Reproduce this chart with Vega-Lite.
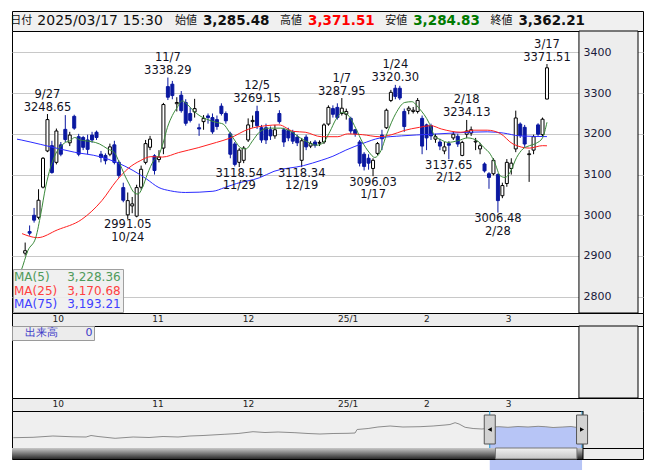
{
  "$schema": "https://vega.github.io/schema/vega-lite/v6.json",
  "padding": {"left": 9, "top": 10, "right": 0, "bottom": 0},
  "background": "white",
  "config": {
    "view": {"stroke": "#000000", "strokeWidth": 1},
    "font": "DejaVu Sans",
    "axis": {"labelFont": "DejaVu Sans"},
    "legend": {"labelFont": "DejaVu Sans"}
  },
  "datasets": {
    "header": [
      {"k": "日付", "v": "2025/03/17 15:30"},
      {"k": "始値", "v": "3,285.48"},
      {"k": "高値", "v": "3,371.51"},
      {"k": "安値", "v": "3,284.83"},
      {"k": "終値", "v": "3,362.21"}
    ],
    "candles": [
      {"i":0,"d":"9/19","o":2907,"h":2933,"l":2901,"c":2913},
      {"i":1,"d":"9/20","o":2960,"h":2975,"l":2950,"c":2956},
      {"i":2,"d":"9/24","o":3000,"h":3018,"l":2982,"c":2988},
      {"i":3,"d":"9/25","o":2995,"h":3064,"l":2990,"c":3037},
      {"i":4,"d":"9/26","o":3069,"h":3143,"l":3066,"c":3140},
      {"i":5,"d":"9/27","o":3158,"h":3248.65,"l":3155,"c":3235},
      {"i":6,"d":"9/30","o":3171,"h":3183,"l":3102,"c":3105},
      {"i":7,"d":"10/1","o":3130,"h":3213,"l":3125,"c":3207},
      {"i":8,"d":"10/2","o":3173,"h":3180,"l":3145,"c":3150},
      {"i":9,"d":"10/3","o":3211,"h":3246,"l":3180,"c":3186},
      {"i":10,"d":"10/4","o":3178,"h":3205,"l":3170,"c":3197},
      {"i":11,"d":"10/7","o":3243,"h":3247,"l":3210,"c":3214},
      {"i":12,"d":"10/8","o":3193,"h":3200,"l":3145,"c":3150},
      {"i":13,"d":"10/9","o":3191,"h":3195,"l":3160,"c":3167},
      {"i":14,"d":"10/10","o":3185,"h":3198,"l":3150,"c":3162},
      {"i":15,"d":"10/11","o":3197,"h":3205,"l":3178,"c":3185},
      {"i":16,"d":"10/15","o":3204,"h":3208,"l":3185,"c":3191},
      {"i":17,"d":"10/16","o":3150,"h":3158,"l":3130,"c":3142},
      {"i":18,"d":"10/17","o":3147,"h":3152,"l":3125,"c":3134},
      {"i":19,"d":"10/18","o":3150,"h":3176,"l":3145,"c":3168},
      {"i":20,"d":"10/21","o":3173,"h":3183,"l":3125,"c":3130},
      {"i":21,"d":"10/22","o":3130,"h":3135,"l":3092,"c":3098},
      {"i":22,"d":"10/23","o":3068,"h":3080,"l":3032,"c":3037},
      {"i":23,"d":"10/24","o":3001,"h":3056,"l":2991.05,"c":3036},
      {"i":24,"d":"10/25","o":3023,"h":3045,"l":3005,"c":3028},
      {"i":25,"d":"10/28","o":2998,"h":3075,"l":2995,"c":3068},
      {"i":26,"d":"10/29","o":3069,"h":3122,"l":3063,"c":3113},
      {"i":27,"d":"10/30","o":3130,"h":3185,"l":3125,"c":3176},
      {"i":28,"d":"10/31","o":3167,"h":3195,"l":3160,"c":3187},
      {"i":29,"d":"11/1","o":3146,"h":3150,"l":3100,"c":3110},
      {"i":30,"d":"11/5","o":3137,"h":3160,"l":3130,"c":3143},
      {"i":31,"d":"11/6","o":3165,"h":3276,"l":3150,"c":3272},
      {"i":32,"d":"11/7","o":3316,"h":3338.29,"l":3283,"c":3290},
      {"i":33,"d":"11/8","o":3322,"h":3330,"l":3285,"c":3294},
      {"i":34,"d":"11/11","o":3274,"h":3290,"l":3255,"c":3277},
      {"i":35,"d":"11/12","o":3295,"h":3305,"l":3252,"c":3257},
      {"i":36,"d":"11/13","o":3277,"h":3285,"l":3220,"c":3226},
      {"i":37,"d":"11/14","o":3250,"h":3265,"l":3228,"c":3233},
      {"i":38,"d":"11/15","o":3254,"h":3286,"l":3240,"c":3262},
      {"i":39,"d":"11/18","o":3215,"h":3225,"l":3195,"c":3212},
      {"i":40,"d":"11/19","o":3230,"h":3246,"l":3210,"c":3238},
      {"i":41,"d":"11/20","o":3244,"h":3250,"l":3225,"c":3240},
      {"i":42,"d":"11/21","o":3240,"h":3250,"l":3200,"c":3205},
      {"i":43,"d":"11/22","o":3235,"h":3245,"l":3210,"c":3218},
      {"i":44,"d":"11/25","o":3268,"h":3275,"l":3245,"c":3250},
      {"i":45,"d":"11/26","o":3250,"h":3255,"l":3225,"c":3232},
      {"i":46,"d":"11/27","o":3200,"h":3205,"l":3140,"c":3150},
      {"i":47,"d":"11/28","o":3175,"h":3180,"l":3120,"c":3125},
      {"i":48,"d":"11/29","o":3130,"h":3165,"l":3118.54,"c":3160},
      {"i":49,"d":"12/2","o":3135,"h":3170,"l":3128,"c":3165},
      {"i":50,"d":"12/3","o":3185,"h":3238,"l":3180,"c":3222},
      {"i":51,"d":"12/4","o":3230,"h":3245,"l":3215,"c":3233},
      {"i":52,"d":"12/5","o":3255,"h":3269.15,"l":3212,"c":3220},
      {"i":53,"d":"12/6","o":3215,"h":3222,"l":3178,"c":3185},
      {"i":54,"d":"12/9","o":3215,"h":3225,"l":3175,"c":3185},
      {"i":55,"d":"12/10","o":3210,"h":3218,"l":3185,"c":3195},
      {"i":56,"d":"12/11","o":3195,"h":3222,"l":3188,"c":3210},
      {"i":57,"d":"12/12","o":3250,"h":3258,"l":3225,"c":3230},
      {"i":58,"d":"12/13","o":3210,"h":3215,"l":3168,"c":3180},
      {"i":59,"d":"12/16","o":3208,"h":3215,"l":3182,"c":3190},
      {"i":60,"d":"12/17","o":3204,"h":3210,"l":3175,"c":3182},
      {"i":61,"d":"12/18","o":3192,"h":3198,"l":3170,"c":3178},
      {"i":62,"d":"12/19","o":3135,"h":3190,"l":3118.34,"c":3183},
      {"i":63,"d":"12/20","o":3192,"h":3198,"l":3160,"c":3168},
      {"i":64,"d":"12/23","o":3170,"h":3182,"l":3165,"c":3176},
      {"i":65,"d":"12/24","o":3180,"h":3185,"l":3166,"c":3172},
      {"i":66,"d":"12/25","o":3177,"h":3184,"l":3170,"c":3179},
      {"i":67,"d":"12/26","o":3180,"h":3226,"l":3175,"c":3222},
      {"i":68,"d":"12/27","o":3224,"h":3270,"l":3220,"c":3265},
      {"i":69,"d":"12/30","o":3262,"h":3270,"l":3240,"c":3248},
      {"i":70,"d":"1/6","o":3265,"h":3275,"l":3235,"c":3240},
      {"i":71,"d":"1/7","o":3250,"h":3287.95,"l":3245,"c":3263},
      {"i":72,"d":"1/8","o":3248,"h":3262,"l":3235,"c":3255},
      {"i":73,"d":"1/9","o":3238,"h":3242,"l":3200,"c":3207},
      {"i":74,"d":"1/10","o":3210,"h":3212,"l":3193,"c":3200},
      {"i":75,"d":"1/14","o":3180,"h":3185,"l":3120,"c":3128},
      {"i":76,"d":"1/15","o":3150,"h":3155,"l":3110,"c":3120},
      {"i":77,"d":"1/16","o":3140,"h":3150,"l":3112,"c":3128},
      {"i":78,"d":"1/17","o":3115,"h":3140,"l":3096.03,"c":3135},
      {"i":79,"d":"1/20","o":3152,"h":3180,"l":3148,"c":3176},
      {"i":80,"d":"1/21","o":3197,"h":3210,"l":3160,"c":3188},
      {"i":81,"d":"1/22","o":3215,"h":3262,"l":3212,"c":3258},
      {"i":82,"d":"1/23","o":3282,"h":3308,"l":3278,"c":3302},
      {"i":83,"d":"1/24","o":3312,"h":3320.30,"l":3285,"c":3292},
      {"i":84,"d":"1/27","o":3312,"h":3318,"l":3283,"c":3288},
      {"i":85,"d":"1/28","o":3255,"h":3262,"l":3205,"c":3218},
      {"i":86,"d":"1/29","o":3258,"h":3268,"l":3248,"c":3263},
      {"i":87,"d":"1/30","o":3255,"h":3266,"l":3250,"c":3258},
      {"i":88,"d":"1/31","o":3255,"h":3288,"l":3250,"c":3282},
      {"i":89,"d":"2/3","o":3238,"h":3245,"l":3150,"c":3170},
      {"i":90,"d":"2/4","o":3222,"h":3225,"l":3160,"c":3190},
      {"i":91,"d":"2/5","o":3220,"h":3225,"l":3185,"c":3195},
      {"i":92,"d":"2/6","o":3187,"h":3200,"l":3178,"c":3193},
      {"i":93,"d":"2/7","o":3180,"h":3188,"l":3160,"c":3170},
      {"i":94,"d":"2/10","o":3158,"h":3180,"l":3150,"c":3168},
      {"i":95,"d":"2/12","o":3176,"h":3182,"l":3137.65,"c":3172},
      {"i":96,"d":"2/13","o":3190,"h":3205,"l":3185,"c":3199},
      {"i":97,"d":"2/14","o":3194,"h":3200,"l":3168,"c":3175},
      {"i":98,"d":"2/17","o":3147,"h":3183,"l":3145,"c":3179},
      {"i":99,"d":"2/18","o":3199,"h":3234.13,"l":3190,"c":3207},
      {"i":100,"d":"2/19","o":3202,"h":3218,"l":3195,"c":3210},
      {"i":101,"d":"2/20","o":3180,"h":3190,"l":3160,"c":3182},
      {"i":102,"d":"2/21","o":3163,"h":3178,"l":3150,"c":3171},
      {"i":103,"d":"2/25","o":3126,"h":3130,"l":3105,"c":3109},
      {"i":104,"d":"2/26","o":3102,"h":3106,"l":3065,"c":3093},
      {"i":105,"d":"2/27","o":3102,"h":3140,"l":3098,"c":3135},
      {"i":106,"d":"2/28","o":3100,"h":3103,"l":3006.48,"c":3036},
      {"i":107,"d":"3/3","o":3048,"h":3080,"l":3042,"c":3073},
      {"i":108,"d":"3/4","o":3078,"h":3138,"l":3070,"c":3130},
      {"i":109,"d":"3/5","o":3115,"h":3140,"l":3100,"c":3128},
      {"i":110,"d":"3/6","o":3163,"h":3257,"l":3155,"c":3239},
      {"i":111,"d":"3/7","o":3224,"h":3228,"l":3190,"c":3196},
      {"i":112,"d":"3/10","o":3216,"h":3222,"l":3168,"c":3175},
      {"i":113,"d":"3/11","o":3149,"h":3160,"l":3082,"c":3151},
      {"i":114,"d":"3/12","o":3160,"h":3198,"l":3150,"c":3193},
      {"i":115,"d":"3/13","o":3222,"h":3226,"l":3195,"c":3199},
      {"i":116,"d":"3/14","o":3198,"h":3240,"l":3193,"c":3236},
      {"i":117,"d":"3/17","o":3285.48,"h":3371.51,"l":3284.83,"c":3362.21}
    ],
    "ma": [
      {"s":"MA(75)","i":-1.83,"v":3187},{"s":"MA(75)","i":-0.9,"v":3185},{"s":"MA(75)","i":3.5,"v":3174},
      {"s":"MA(75)","i":11,"v":3155},{"s":"MA(75)","i":16.7,"v":3144},{"s":"MA(75)","i":20.5,"v":3130},
      {"s":"MA(75)","i":24.2,"v":3110},{"s":"MA(75)","i":27.1,"v":3090},{"s":"MA(75)","i":30,"v":3068},
      {"s":"MA(75)","i":32.6,"v":3060},{"s":"MA(75)","i":35.9,"v":3056},{"s":"MA(75)","i":42.1,"v":3059},
      {"s":"MA(75)","i":44.7,"v":3068},{"s":"MA(75)","i":47.4,"v":3078},{"s":"MA(75)","i":52.5,"v":3092},
      {"s":"MA(75)","i":55.8,"v":3108},{"s":"MA(75)","i":62.4,"v":3122},{"s":"MA(75)","i":66.4,"v":3135},
      {"s":"MA(75)","i":69,"v":3145},{"s":"MA(75)","i":71.9,"v":3160},{"s":"MA(75)","i":75.6,"v":3176},
      {"s":"MA(75)","i":79.6,"v":3190},{"s":"MA(75)","i":84.4,"v":3195},{"s":"MA(75)","i":91,"v":3199},
      {"s":"MA(75)","i":97.7,"v":3203},{"s":"MA(75)","i":103.6,"v":3205},{"s":"MA(75)","i":107.2,"v":3202},
      {"s":"MA(75)","i":110.9,"v":3195},{"s":"MA(75)","i":117,"v":3193.21},
      {"s":"MA(25)","i":-0.7,"v":2955},{"s":"MA(25)","i":2.8,"v":2945},{"s":"MA(25)","i":7.2,"v":2964},
      {"s":"MA(25)","i":12.7,"v":2990},{"s":"MA(25)","i":17.2,"v":3036},{"s":"MA(25)","i":20.5,"v":3085},
      {"s":"MA(25)","i":23.1,"v":3115},{"s":"MA(25)","i":25.8,"v":3134},{"s":"MA(25)","i":28.2,"v":3144},
      {"s":"MA(25)","i":30.8,"v":3143},{"s":"MA(25)","i":34.4,"v":3154},{"s":"MA(25)","i":38.8,"v":3166},
      {"s":"MA(25)","i":42.9,"v":3179},{"s":"MA(25)","i":45.8,"v":3189},{"s":"MA(25)","i":50.2,"v":3212},
      {"s":"MA(25)","i":54,"v":3220},{"s":"MA(25)","i":56.9,"v":3222},{"s":"MA(25)","i":60.2,"v":3206},
      {"s":"MA(25)","i":62.8,"v":3204},{"s":"MA(25)","i":66.4,"v":3193},{"s":"MA(25)","i":70.1,"v":3193},
      {"s":"MA(25)","i":72.3,"v":3200},{"s":"MA(25)","i":75.6,"v":3198},{"s":"MA(25)","i":79.4,"v":3193},
      {"s":"MA(25)","i":82.2,"v":3198},{"s":"MA(25)","i":84.9,"v":3208},{"s":"MA(25)","i":88.4,"v":3216},
      {"s":"MA(25)","i":91,"v":3220},{"s":"MA(25)","i":93.3,"v":3212},{"s":"MA(25)","i":97.7,"v":3204},
      {"s":"MA(25)","i":100.6,"v":3209},{"s":"MA(25)","i":103.6,"v":3209},{"s":"MA(25)","i":106.5,"v":3201},
      {"s":"MA(25)","i":109.4,"v":3175},{"s":"MA(25)","i":113.1,"v":3165},{"s":"MA(25)","i":116,"v":3171},
      {"s":"MA(25)","i":117,"v":3170.68},
      {"s":"MA(5)","i":-1.83,"v":2840},{"s":"MA(5)","i":-0.9,"v":2864},{"s":"MA(5)","i":0.6,"v":2913},
      {"s":"MA(5)","i":2.4,"v":2946},{"s":"MA(5)","i":3.5,"v":3003},{"s":"MA(5)","i":4.6,"v":3070},
      {"s":"MA(5)","i":5.7,"v":3118},{"s":"MA(5)","i":6.8,"v":3150},{"s":"MA(5)","i":7.9,"v":3168},
      {"s":"MA(5)","i":9,"v":3179},{"s":"MA(5)","i":10.1,"v":3183},{"s":"MA(5)","i":11.1,"v":3191},
      {"s":"MA(5)","i":12.3,"v":3185},{"s":"MA(5)","i":13.4,"v":3183},{"s":"MA(5)","i":14.9,"v":3181},
      {"s":"MA(5)","i":16.7,"v":3175},{"s":"MA(5)","i":18.5,"v":3163},{"s":"MA(5)","i":20,"v":3154},
      {"s":"MA(5)","i":21.1,"v":3130},{"s":"MA(5)","i":22.2,"v":3101},{"s":"MA(5)","i":23.3,"v":3077},
      {"s":"MA(5)","i":24.4,"v":3056},{"s":"MA(5)","i":25.3,"v":3052},{"s":"MA(5)","i":26.3,"v":3068},
      {"s":"MA(5)","i":27.4,"v":3101},{"s":"MA(5)","i":28.8,"v":3134},{"s":"MA(5)","i":29.9,"v":3146},
      {"s":"MA(5)","i":31,"v":3180},{"s":"MA(5)","i":31.9,"v":3216},{"s":"MA(5)","i":33,"v":3245},
      {"s":"MA(5)","i":34.1,"v":3265},{"s":"MA(5)","i":35.2,"v":3281},{"s":"MA(5)","i":36.3,"v":3273},
      {"s":"MA(5)","i":37.7,"v":3257},{"s":"MA(5)","i":39.2,"v":3244},{"s":"MA(5)","i":40.7,"v":3236},
      {"s":"MA(5)","i":42.9,"v":3228},{"s":"MA(5)","i":44.4,"v":3224},{"s":"MA(5)","i":45.8,"v":3204},
      {"s":"MA(5)","i":47.3,"v":3179},{"s":"MA(5)","i":48.4,"v":3165},{"s":"MA(5)","i":49.5,"v":3163},
      {"s":"MA(5)","i":51,"v":3183},{"s":"MA(5)","i":52.5,"v":3204},{"s":"MA(5)","i":54.7,"v":3214},
      {"s":"MA(5)","i":57.3,"v":3214},{"s":"MA(5)","i":59.4,"v":3207},{"s":"MA(5)","i":61.7,"v":3190},
      {"s":"MA(5)","i":63.9,"v":3177},{"s":"MA(5)","i":65.3,"v":3172},{"s":"MA(5)","i":66.8,"v":3178},
      {"s":"MA(5)","i":68.3,"v":3205},{"s":"MA(5)","i":69.7,"v":3236},{"s":"MA(5)","i":71.2,"v":3253},
      {"s":"MA(5)","i":72.7,"v":3242},{"s":"MA(5)","i":74.2,"v":3212},{"s":"MA(5)","i":75.6,"v":3180},
      {"s":"MA(5)","i":77.1,"v":3155},{"s":"MA(5)","i":78.4,"v":3142},{"s":"MA(5)","i":79.6,"v":3155},
      {"s":"MA(5)","i":81.1,"v":3200},{"s":"MA(5)","i":83.1,"v":3250},{"s":"MA(5)","i":85.1,"v":3277},
      {"s":"MA(5)","i":86.7,"v":3279},{"s":"MA(5)","i":88.3,"v":3263},{"s":"MA(5)","i":90.6,"v":3226},
      {"s":"MA(5)","i":91.8,"v":3195},{"s":"MA(5)","i":93.3,"v":3185},{"s":"MA(5)","i":94.8,"v":3179},
      {"s":"MA(5)","i":97,"v":3183},{"s":"MA(5)","i":99.2,"v":3190},{"s":"MA(5)","i":101.4,"v":3183},
      {"s":"MA(5)","i":102.8,"v":3167},{"s":"MA(5)","i":104.3,"v":3150},{"s":"MA(5)","i":105.4,"v":3126},
      {"s":"MA(5)","i":106.5,"v":3097},{"s":"MA(5)","i":107.6,"v":3093},{"s":"MA(5)","i":108.7,"v":3105},
      {"s":"MA(5)","i":110.2,"v":3142},{"s":"MA(5)","i":111.6,"v":3163},{"s":"MA(5)","i":113.1,"v":3171},
      {"s":"MA(5)","i":114.6,"v":3177},{"s":"MA(5)","i":116,"v":3190},{"s":"MA(5)","i":117,"v":3228.36}
    ],
    "notes": [
      {"i":5,"d":"9/27","v":3248.65,"k":"high"},
      {"i":32,"d":"11/7","v":3338.29,"k":"high"},
      {"i":52,"d":"12/5","v":3269.15,"k":"high"},
      {"i":71,"d":"1/7","v":3287.95,"k":"high"},
      {"i":83,"d":"1/24","v":3320.30,"k":"high"},
      {"i":99,"d":"2/18","v":3234.13,"k":"high"},
      {"i":117,"d":"3/17","v":3371.51,"k":"high"},
      {"i":23,"d":"10/24","v":2991.05,"k":"low"},
      {"i":48,"d":"11/29","v":3118.54,"k":"low"},
      {"i":62,"d":"12/19","v":3118.34,"k":"low"},
      {"i":78,"d":"1/17","v":3096.03,"k":"low"},
      {"i":95,"d":"2/12","v":3137.65,"k":"low"},
      {"i":106,"d":"2/28","v":3006.48,"k":"low"}
    ],
    "navline": [
      {"t":2022.205,"v":2793},{"t":2022.309,"v":2808},{"t":2022.414,"v":2856},{"t":2022.520,"v":2826},
      {"t":2022.589,"v":2819},{"t":2022.615,"v":2874},{"t":2022.652,"v":2837},{"t":2022.742,"v":2771},
      {"t":2022.837,"v":2819},{"t":2022.921,"v":2800},{"t":2022.995,"v":2837},{"t":2023.074,"v":2819},
      {"t":2023.137,"v":2856},{"t":2023.206,"v":2874},{"t":2023.317,"v":2919},{"t":2023.391,"v":2948},
      {"t":2023.470,"v":3015},{"t":2023.533,"v":2985},{"t":2023.602,"v":3004},{"t":2023.691,"v":2978},
      {"t":2023.760,"v":2948},{"t":2023.823,"v":2930},{"t":2023.892,"v":2948},{"t":2023.971,"v":2956},
      {"t":2024.008,"v":2967},{"t":2024.019,"v":3096},{"t":2024.077,"v":3133},{"t":2024.129,"v":3189},
      {"t":2024.193,"v":3226},{"t":2024.261,"v":3189},{"t":2024.351,"v":3200},{"t":2024.420,"v":3226},
      {"t":2024.483,"v":3263},{"t":2024.509,"v":3281},{"t":2024.536,"v":3348},{"t":2024.557,"v":3300},
      {"t":2024.589,"v":3178},{"t":2024.631,"v":3133},{"t":2024.678,"v":3115},{"t":2024.719,"v":3152},
      {"t":2024.736,"v":3189},{"t":2024.768,"v":3200},{"t":2024.815,"v":3178},{"t":2024.868,"v":3207},
      {"t":2024.921,"v":3189},{"t":2024.974,"v":3215},{"t":2025.011,"v":3200},{"t":2025.053,"v":3170},
      {"t":2025.105,"v":3189},{"t":2025.148,"v":3207},{"t":2025.174,"v":3178},{"t":2025.206,"v":3244}
    ],
    "sel": [
      {"t": 2024.719, "dir": "L"},
      {"t": 2025.206, "dir": "R"}
    ],
    "scroll": [
      {"a": 2022.198, "b": 2025.211, "p": "track"},
      {"a": 2024.749, "b": 2025.179, "p": "thumb"}
    ]
  },
  "spacing": 0,
  "bounds": "flush",
  "resolve": {"scale": {"color": "independent", "shape": "independent"}, "legend": {"color": "independent", "shape": "independent"}},
  "vconcat": [
    {
      "width": 631,
      "height": 20,
      "view": {"fill": "#f0f0f0"},
      "data": {"name": "header"},
      "encoding": {
        "x": {"field": "k", "type": "nominal", "scale": {"type": "point", "domain": ["日付", "始値", "高値", "安値", "終値"], "padding": 1.191, "align": 0.2744, "round": false}, "axis": null}
      },
      "layer": [
        {
          "transform": [{"filter": "datum.k != '日付'"}],
          "mark": {"type": "text", "align": "left", "baseline": "middle", "font": "Noto Sans CJK JP", "fontSize": 11, "color": "#111111"},
          "encoding": {"text": {"field": "k"}}
        },
        {
          "transform": [{"filter": "datum.k != '日付'"}],
          "mark": {"type": "text", "align": "left", "baseline": "middle", "font": "DejaVu Sans", "fontSize": 13.5, "fontWeight": "bold", "dx": 28},
          "encoding": {
            "text": {"field": "v"},
            "color": {"condition": [{"test": "datum.k == '高値'", "value": "#ff0000"}, {"test": "datum.k == '安値'", "value": "#007a00"}], "value": "#111111"}
          }
        },
        {
          "transform": [{"filter": "datum.k == '日付'"}],
          "mark": {"type": "text", "align": "left", "baseline": "middle", "font": "Noto Sans CJK JP", "fontSize": 11, "dx": -59.5, "color": "#111111"},
          "encoding": {"text": {"field": "k"}}
        },
        {
          "transform": [{"filter": "datum.k == '日付'"}],
          "mark": {"type": "text", "align": "left", "baseline": "middle", "font": "DejaVu Sans", "fontSize": 14, "dx": -32.4, "color": "#111111"},
          "encoding": {"text": {"field": "v"}}
        }
      ]
    },
    {
      "width": 631,
      "height": 282,
      "view": {"fill": "white"},
      "resolve": {"axis": {"y": "independent"}},
      "layer": [
        {
          "data": {"name": "candles"},
          "mark": {"type": "rule", "strokeWidth": 1},
          "encoding": {
            "x": {"field": "i", "type": "quantitative", "scale": {"domain": [-1.83, 137.41], "nice": false, "zero": false},
              "axis": {"values": [6.67, 28.67, 48.67, 69.67, 88.67, 106.67], "labels": false, "ticks": false, "domain": false, "grid": true, "gridColor": "#c8c8c8", "title": null}},
            "y": {"field": "l", "type": "quantitative", "scale": {"domain": [2760, 3452.6], "nice": false, "zero": false},
              "axis": {"orient": "left", "values": [2800, 2900, 3000, 3100, 3200, 3300, 3400], "labels": false, "ticks": false, "domain": false, "grid": true, "gridColor": "#c8c8c8", "title": null}},
            "y2": {"field": "h"},
            "color": {"condition": {"test": "datum.c < datum.o", "value": "#0a18a0"}, "value": "#000000"}
          }
        },
        {
          "data": {"name": "candles"},
          "mark": {"type": "bar", "width": 3, "strokeWidth": 1},
          "encoding": {
            "x": {"field": "i", "type": "quantitative", "axis": null},
            "y": {"field": "o", "type": "quantitative", "axis": null},
            "y2": {"field": "c"},
            "fill": {"condition": {"test": "datum.c < datum.o", "value": "#0a18a0"}, "value": "#ffffff"},
            "stroke": {"condition": {"test": "datum.c < datum.o", "value": "#0a18a0"}, "value": "#000000"}
          }
        },
        {
          "data": {"name": "ma"},
          "mark": {"type": "line", "strokeWidth": 1, "interpolate": "monotone"},
          "encoding": {
            "x": {"field": "i", "type": "quantitative", "axis": null},
            "y": {"field": "v", "type": "quantitative", "axis": null},
            "color": {"field": "s", "type": "nominal",
              "scale": {"domain": ["MA(5)", "MA(25)", "MA(75)"], "range": ["#3a8a3a", "#ff2020", "#2c2cff"]},
              "legend": {
                "title": null, "orient": "bottom-left", "offset": 1, "padding": 2,
                "fillColor": "rgba(238,238,238,0.9)", "strokeColor": "#a0a0a0",
                "symbolType": "circle", "symbolSize": 0, "symbolStrokeWidth": 0, "symbolOpacity": 0, "labelOffset": -13,
                "labelFontSize": 12, "labelFont": "DejaVu Sans", "rowPadding": 1.5, "labelLimit": 300,
                "labelExpr": "datum.label == 'MA(5)' ? 'MA(5)\u2007\u2007\u20093,228.36' : datum.label == 'MA(25)' ? 'MA(25)\u2007\u20093,170.68' : 'MA(75)\u2007\u20093,193.21'",
                "labelColor": {"expr": "datum.label == 'MA(5)' ? '#4f9a5a' : datum.label == 'MA(25)' ? '#ff4040' : '#4040ff'"}
              }
            }
          }
        },
        {
          "data": {"name": "notes"},
          "transform": [{"filter": "datum.k == 'high'"}],
          "mark": {"type": "text", "align": "center", "baseline": "alphabetic", "fontSize": 11.5, "dy": -3.5, "color": "#111122"},
          "encoding": {
            "x": {"field": "i", "type": "quantitative", "axis": null},
            "y": {"field": "v", "type": "quantitative", "axis": null},
            "text": {"field": "v", "type": "quantitative", "format": ".2f"}
          }
        },
        {
          "data": {"name": "notes"},
          "transform": [{"filter": "datum.k == 'high'"}],
          "mark": {"type": "text", "align": "center", "baseline": "alphabetic", "fontSize": 11.5, "dy": -16.5, "color": "#111122"},
          "encoding": {
            "x": {"field": "i", "type": "quantitative", "axis": null},
            "y": {"field": "v", "type": "quantitative", "axis": null},
            "text": {"field": "d"}
          }
        },
        {
          "data": {"name": "notes"},
          "transform": [{"filter": "datum.k == 'low'"}],
          "mark": {"type": "text", "align": "center", "baseline": "alphabetic", "fontSize": 11.5, "dy": 9.5, "color": "#111122"},
          "encoding": {
            "x": {"field": "i", "type": "quantitative", "axis": null},
            "y": {"field": "v", "type": "quantitative", "axis": null},
            "text": {"field": "v", "type": "quantitative", "format": ".2f"}
          }
        },
        {
          "data": {"name": "notes"},
          "transform": [{"filter": "datum.k == 'low'"}],
          "mark": {"type": "text", "align": "center", "baseline": "alphabetic", "fontSize": 11.5, "dy": 22, "color": "#111122"},
          "encoding": {
            "x": {"field": "i", "type": "quantitative", "axis": null},
            "y": {"field": "v", "type": "quantitative", "axis": null},
            "text": {"field": "d"}
          }
        },
        {
          "data": {"values": [{}]},
          "mark": {"type": "rect", "fill": "#ededed", "stroke": "#000000", "strokeWidth": 1},
          "encoding": {
            "x": {"datum": 124.17, "type": "quantitative", "axis": null},
            "x2": {"datum": 137.41}
          }
        },
        {
          "data": {"values": [{}]},
          "mark": {"type": "point", "opacity": 0},
          "encoding": {
            "x": {"datum": 130, "type": "quantitative", "axis": null},
            "y": {"datum": 3000, "type": "quantitative",
              "axis": {"orient": "right", "offset": -60, "zindex": 1, "values": [2800, 2900, 3000, 3100, 3200, 3300, 3400], "format": "d", "labelAlign": "left", "labelPadding": 0, "ticks": false, "domain": false, "grid": false, "labelFontSize": 11, "labelColor": "#1a1a3a", "title": null, "labelFlush": false, "labelOverlap": false, "labelBaseline": "middle"}}
          }
        }
      ]
    },
    {
      "width": 631,
      "height": 13,
      "view": {"fill": "#ededed"},
      "data": {"values": [{}]},
      "mark": {"type": "point", "opacity": 0},
      "encoding": {
        "x": {"datum": 0, "type": "quantitative", "scale": {"domain": [-1.83, 137.41], "nice": false, "zero": false},
          "axis": {"orient": "top", "values": [6.67, 28.67, 48.67, 69.67, 88.67, 106.67],
            "labelExpr": "datum.value < 10 ? '10' : datum.value < 30 ? '11' : datum.value < 50 ? '12' : datum.value < 70 ? '25/1' : datum.value < 90 ? '2' : '3'",
            "labelAlign": "left", "labelBaseline": "top", "labelPadding": -1, "labelOffset": 1.5, "ticks": false, "domain": false, "grid": false, "labelFontSize": 9, "labelColor": "#222222", "labelFlush": false, "labelOverlap": false, "title": null}}
      }
    },
    {
      "width": 631,
      "height": 72,
      "view": {"fill": "white"},
      "layer": [
        {
          "data": {"values": [{"i": 0, "vol": 0, "s": "出来高"}]},
          "mark": {"type": "bar", "width": 3, "opacity": 0},
          "encoding": {
            "x": {"field": "i", "type": "quantitative", "scale": {"domain": [-1.83, 137.41], "nice": false, "zero": false},
              "axis": {"values": [6.67, 28.67, 48.67, 69.67, 88.67, 106.67], "labels": false, "ticks": false, "domain": false, "grid": true, "gridColor": "#c8c8c8", "title": null}},
            "y": {"field": "vol", "type": "quantitative", "scale": {"domain": [0, 1]}, "axis": null},
            "color": {"field": "s", "type": "nominal", "scale": {"range": ["#3a3ac8"]},
              "legend": {
                "title": null, "orient": "top-left", "offset": 0, "padding": 1.5,
                "fillColor": "#ececec", "strokeColor": "#9a9a9a",
                "symbolSize": 0, "symbolStrokeWidth": 0, "symbolOpacity": 0, "labelOffset": 0,
                "labelFontSize": 11, "labelColor": "#3a3ac8", "labelLimit": 300,
                "labelExpr": "'出来高\u00a0\u00a0\u00a0\u00a0\u00a0\u00a0\u00a0\u00a00'"
              }
            }
          }
        },
        {
          "data": {"values": [{}]},
          "mark": {"type": "rect", "fill": "#ededed", "stroke": "#000000", "strokeWidth": 1},
          "encoding": {
            "x": {"datum": 124.17, "type": "quantitative", "axis": null},
            "x2": {"datum": 137.41}
          }
        }
      ]
    },
    {
      "width": 631,
      "height": 13,
      "view": {"fill": "#ededed"},
      "data": {"values": [{}]},
      "mark": {"type": "point", "opacity": 0},
      "encoding": {
        "x": {"datum": 0, "type": "quantitative", "scale": {"domain": [-1.83, 137.41], "nice": false, "zero": false},
          "axis": {"orient": "top", "values": [6.67, 28.67, 48.67, 69.67, 88.67, 106.67],
            "labelExpr": "datum.value < 10 ? '10' : datum.value < 30 ? '11' : datum.value < 50 ? '12' : datum.value < 70 ? '25/1' : datum.value < 90 ? '2' : '3'",
            "labelAlign": "left", "labelBaseline": "top", "labelPadding": -1, "labelOffset": 1.5, "ticks": false, "domain": false, "grid": false, "labelFontSize": 9, "labelColor": "#222222", "labelFlush": false, "labelOverlap": false, "title": null}}
      }
    },
    {
      "width": 631,
      "height": 37,
      "view": {"fill": "#efefef"},
      "layer": [
        {
          "data": {"name": "navline"},
          "transform": [{"filter": "datum.t >= 2024.719"}],
          "mark": {"type": "area", "color": "#b7c5f6"},
          "encoding": {
            "x": {"field": "t", "type": "quantitative", "scale": {"domain": [2022.198, 2025.5276], "nice": false, "zero": false},
              "axis": {"orient": "bottom", "values": [2023, 2024, 2025], "labelExpr": "'' + (datum.value - 2000)", "labelAlign": "left", "labelBaseline": "bottom", "labelPadding": -2, "labelOffset": 1.5, "ticks": false, "domain": false, "grid": true, "gridColor": "#ffffff", "labelFontSize": 10, "labelColor": "#222222", "labelFlush": false, "labelOverlap": false, "title": null}},
            "y": {"field": "v", "type": "quantitative", "scale": {"domain": [2412, 3781], "nice": false, "zero": false}, "axis": null}
          }
        },
        {
          "data": {"name": "navline"},
          "mark": {"type": "line", "color": "#8c8c8c", "strokeWidth": 1},
          "encoding": {
            "x": {"field": "t", "type": "quantitative", "axis": null},
            "y": {"field": "v", "type": "quantitative", "axis": null}
          }
        },
        {
          "data": {"name": "sel"},
          "mark": {"type": "rule", "color": "#1c9ad6", "strokeWidth": 1},
          "encoding": {"x": {"field": "t", "type": "quantitative", "axis": null}}
        },
        {
          "data": {"values": [{}]},
          "mark": {"type": "rect", "fill": "#ededed"},
          "encoding": {
            "x": {"datum": 2025.211, "type": "quantitative", "axis": null},
            "x2": {"datum": 2025.5276}
          }
        },
        {
          "data": {"values": [{}]},
          "mark": {"type": "rule", "color": "#000000", "strokeWidth": 1},
          "encoding": {"x": {"datum": 2025.211, "type": "quantitative", "axis": null}}
        },
        {
          "data": {"name": "sel"},
          "mark": {"type": "point", "shape": "M-0.38,-1H0.38V1H-0.38Z", "size": 841, "filled": true, "fill": "#d2d2d2", "stroke": "#555555", "strokeWidth": 1, "opacity": 1},
          "encoding": {"x": {"field": "t", "type": "quantitative", "axis": null}}
        },
        {
          "data": {"name": "sel"},
          "mark": {"type": "point", "size": 22, "filled": true, "color": "#000000", "opacity": 1},
          "encoding": {
            "x": {"field": "t", "type": "quantitative", "axis": null},
            "shape": {"field": "dir", "type": "nominal", "scale": {"domain": ["L", "R"], "range": ["triangle-left", "triangle-right"]}, "legend": null}
          }
        }
      ]
    },
    {
      "width": 631,
      "height": 11,
      "view": {"fill": "#ededed"},
      "layer": [
        {
          "data": {"name": "scroll"},
          "transform": [{"filter": "datum.p == 'track'"}],
          "mark": {"type": "rect", "fill": {"gradient": "linear", "x1": 0, "y1": 0, "x2": 0, "y2": 1, "stops": [{"offset": 0, "color": "#c8c8c8"}, {"offset": 1, "color": "#2a2a2a"}]}},
          "encoding": {
            "x": {"field": "a", "type": "quantitative", "scale": {"domain": [2022.198, 2025.5276], "nice": false, "zero": false}, "axis": null},
            "x2": {"field": "b"}
          }
        },
        {
          "data": {"name": "scroll"},
          "transform": [{"filter": "datum.p == 'thumb'"}],
          "mark": {"type": "rect", "stroke": "#777777", "strokeWidth": 1, "fill": {"gradient": "linear", "x1": 0, "y1": 0, "x2": 0, "y2": 1, "stops": [{"offset": 0, "color": "#f2f2f2"}, {"offset": 1, "color": "#c4c4c4"}]}},
          "encoding": {
            "x": {"field": "a", "type": "quantitative", "axis": null},
            "x2": {"field": "b"}
          }
        },
        {
          "data": {"values": [{}]},
          "mark": {"type": "rule", "color": "#000000", "strokeWidth": 1},
          "encoding": {"x": {"datum": 2025.211, "type": "quantitative", "axis": null}}
        }
      ]
    }
  ]
}
